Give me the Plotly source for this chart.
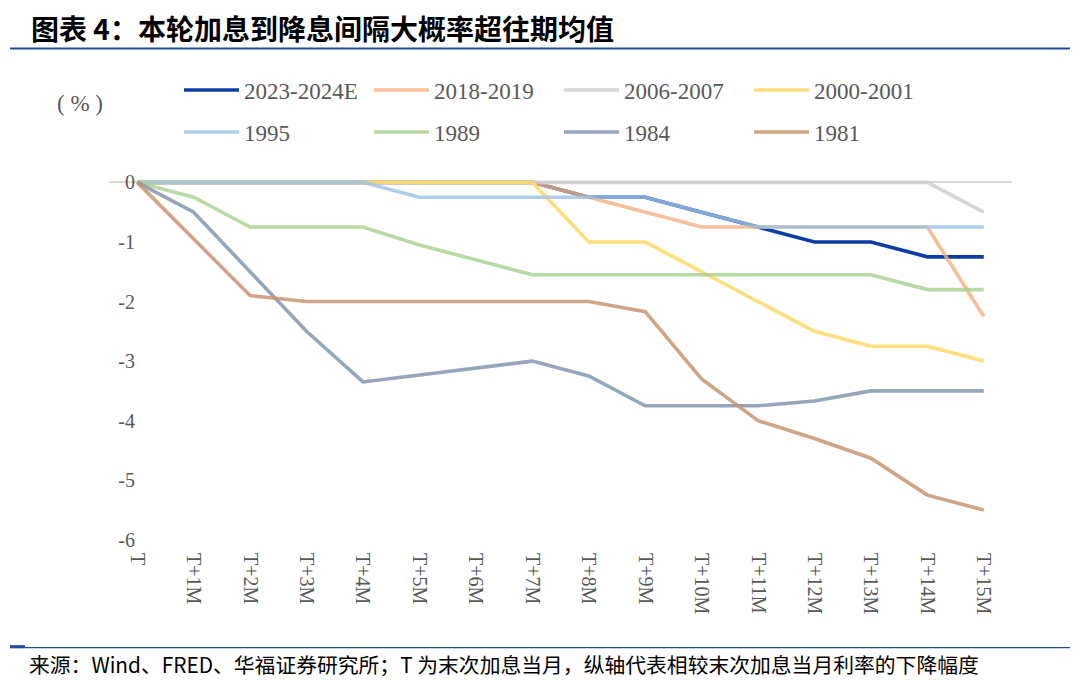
import plotly.graph_objects as go

categories = ["T", "T+1M", "T+2M", "T+3M", "T+4M", "T+5M", "T+6M", "T+7M", "T+8M",
              "T+9M", "T+10M", "T+11M", "T+12M", "T+13M", "T+14M", "T+15M"]

s_2023 = [0, 0, 0, 0, 0, 0, 0, 0, -0.25, -0.25, -0.5, -0.75, -1.0, -1.0, -1.25, -1.25]
s_2018 = [0, 0, 0, 0, 0, 0, 0, 0, -0.25, -0.5, -0.75, -0.75, -0.75, -0.75, -0.75, -2.25]
s_2006 = [0, 0, 0, 0, 0, 0, 0, 0, 0, 0, 0, 0, 0, 0, 0, -0.5]
s_2000 = [0, 0, 0, 0, 0, 0, 0, 0, -1.0, -1.0, -1.5, -2.0, -2.5, -2.75, -2.75, -3.0]
s_1995 = [0, 0, 0, 0, 0, -0.25, -0.25, -0.25, -0.25, -0.25, -0.5, -0.75, -0.75, -0.75, -0.75, -0.75]
s_1989 = [0, -0.25, -0.75, -0.75, -0.75, -1.05, -1.3, -1.55, -1.55, -1.55, -1.55, -1.55, -1.55, -1.55, -1.8, -1.8]
s_1984 = [0, -0.5, -1.5, -2.5, -3.35, -3.23, -3.11, -3.0, -3.25, -3.75, -3.75, -3.75, -3.67, -3.5, -3.5, -3.5]
s_1981 = [0, -0.95, -1.9, -2.0, -2.0, -2.0, -2.0, -2.0, -2.0, -2.17, -3.3, -4.0, -4.3, -4.63, -5.25, -5.5]

series_names = ["2023-2024E", "2018-2019", "2006-2007", "2000-2001", "1995", "1989", "1984", "1981"]
series_values = [s_2023, s_2018, s_2006, s_2000, s_1995, s_1989, s_1984, s_1981]
series_colors = ["#0033A0", "#F4B183", "#D0D0D0", "#FFD966", "#9DC3E6", "#A9D18E", "#8497B0", "#C8956F"]
series_opacity = [0.95, 0.8, 0.85, 0.85, 0.8, 0.8, 0.85, 0.85]
series_legend = ["legend", "legend", "legend", "legend", "legend2", "legend2", "legend2", "legend2"]

y_ticks = [0, -1, -2, -3, -4, -5, -6]

# the page adds an 8px body margin; positions below are in screen px (reference)
OFF = 8
W, H = 1080, 680
L = 109 - OFF
T = 179.6 - OFF
R = W - (1012 - OFF)
B = H - (541.2 - OFF)
PW, PH = W - L - R, H - T - B


def px_x(x):
    return (x - OFF - L) / PW


def px_y(y):
    return 1 - (y - OFF - T) / PH


fig = go.Figure()
for name, vals, col, op, lg in zip(series_names, series_values, series_colors,
                                   series_opacity, series_legend):
    fig.add_trace(go.Scatter(x=categories, y=vals, mode="lines", name=name, legend=lg,
                             line=dict(color=col, width=3.6), opacity=op))

serif = "Liberation Serif, Times New Roman, serif"
cjk = "Noto Sans CJK SC, sans-serif"

legend_common = dict(orientation="h", xref="container", yref="container",
                     xanchor="left", yanchor="middle",
                     entrywidth=120, entrywidthmode="pixels", itemwidth=55,
                     font=dict(family=serif, size=23, color="#595959"),
                     tracegroupgap=0, bgcolor="rgba(0,0,0,0)")

fig.update_layout(
    width=W, height=H,
    paper_bgcolor="white", plot_bgcolor="white",
    margin=dict(l=L, r=R, t=T, b=B, autoexpand=False),
    showlegend=True,
    legend=dict(x=(176 - OFF + 3) / W, y=1 - (90 - OFF) / H, **legend_common),
    legend2=dict(x=(176 - OFF + 3) / W, y=1 - (132 - OFF) / H, **legend_common),
    xaxis=dict(type="category", categoryorder="array", categoryarray=categories,
               range=[-0.5, 15.5], showgrid=False, showline=False, zeroline=False,
               tickangle=90, ticks="", ticklabelstandoff=11,
               tickfont=dict(family=serif, size=20, color="#595959")),
    yaxis=dict(range=[-6.02, 0.04], tickvals=y_ticks, ticktext=[str(v) for v in y_ticks],
               showgrid=False, showline=False, zeroline=True, zerolinecolor="#D9D9D9",
               zerolinewidth=2, ticks="", ticklabelstandoff=-27,
               tickfont=dict(family=serif, size=20, color="#595959")),
    font=dict(family=serif, color="#595959"),
)

fig.add_annotation(text="图表 4：本轮加息到降息间隔大概率超往期均值", xref="paper", yref="paper",
                   x=px_x(30), y=px_y(27), xanchor="left", yanchor="middle", borderpad=0,
                   showarrow=False, font=dict(family=cjk, size=28, color="#000000", weight="bold"))
fig.add_annotation(text="( % )", xref="paper", yref="paper",
                   x=px_x(80), y=px_y(103), xanchor="center", yanchor="middle",
                   showarrow=False, font=dict(family=serif, size=23, color="#595959"))
fig.add_annotation(text="来源：Wind、FRED、华福证券研究所；T 为末次加息当月，纵轴代表相较末次加息当月利率的下降幅度",
                   xref="paper", yref="paper",
                   x=px_x(27), y=px_y(664), xanchor="left", yanchor="middle",
                   showarrow=False, font=dict(family=cjk, size=20.8, color="#000000"))

# header / footer rules
fig.add_shape(type="line", xref="paper", yref="paper",
              x0=px_x(10), x1=px_x(1070), y0=px_y(48), y1=px_y(48),
              line=dict(color="#1F4E9A", width=2))
fig.add_shape(type="line", xref="paper", yref="paper",
              x0=px_x(10), x1=px_x(1070), y0=px_y(648), y1=px_y(648),
              line=dict(color="#1F4E9A", width=1.2))
fig.add_shape(type="line", xref="paper", yref="paper",
              x0=px_x(10), x1=px_x(25), y0=px_y(647), y1=px_y(647),
              line=dict(color="#1F4E9A", width=3))

fig.write_html("out.html")
